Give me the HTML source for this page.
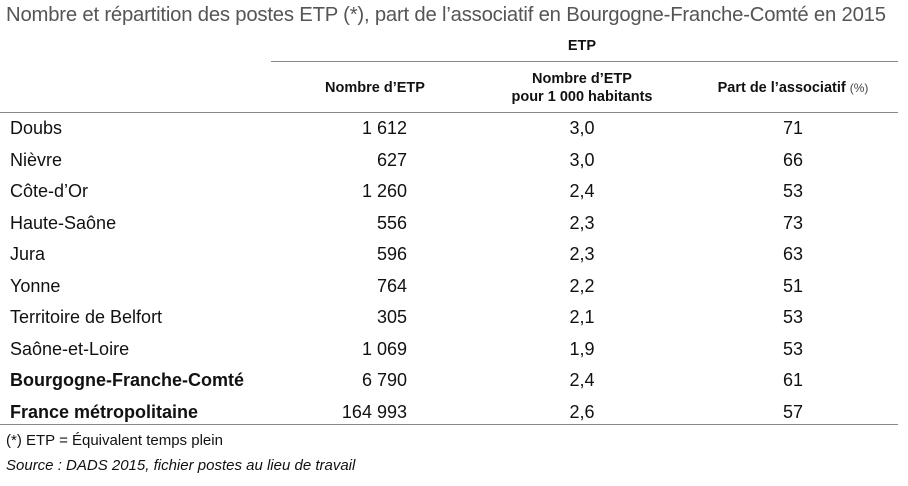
<!DOCTYPE html>
<html><head><meta charset="utf-8"><style>
body{margin:0;width:908px;height:486px;background:#fff;font-family:"Liberation Sans",sans-serif;color:#111;position:relative;overflow:hidden}
.a{position:absolute;white-space:nowrap}
.t{font-size:20.3px;color:#555;left:6px;top:4px;letter-spacing:-0.2px}
.h{font-size:14.5px;font-weight:bold;text-align:center}
.r{font-size:18px}
.l{position:absolute;height:1px;background:#888}
</style></head><body>
<div class="a t">Nombre et répartition des postes ETP (*), part de l’associatif en Bourgogne-Franche-Comté en 2015</div>
<div class="a h" style="left:482px;width:200px;top:38px">ETP</div>
<div class="l" style="left:271px;width:627px;top:61px"></div>
<div class="a h" style="left:275px;width:200px;top:80px">Nombre d’ETP</div>
<div class="a h" style="left:482px;width:200px;top:70px;line-height:18px">Nombre d’ETP<br>pour 1 000 habitants</div>
<div class="a h" style="left:693px;width:200px;top:80px">Part de l’associatif <span style="font-weight:normal;font-size:12px;color:#444">(%)</span></div>
<div class="l" style="left:0;width:898px;top:112px"></div>
<div class="l" style="left:0;width:898px;top:424px"></div>
<div id="rows"></div>
<div class="a r" style="left:6px;top:432px;font-size:15px">(*) ETP = Équivalent temps plein</div>
<div class="a r" style="left:6px;top:457px;font-size:15px;font-style:italic">Source : DADS 2015, fichier postes au lieu de travail</div>
<script>
var d=[["Doubs","1 612","3,0","71"],["Nièvre","627","3,0","66"],["Côte-d’Or","1 260","2,4","53"],["Haute-Saône","556","2,3","73"],["Jura","596","2,3","63"],["Yonne","764","2,2","51"],["Territoire de Belfort","305","2,1","53"],["Saône-et-Loire","1 069","1,9","53"],["Bourgogne-Franche-Comté","6 790","2,4","61"],["France métropolitaine","164 993","2,6","57"]];
var h="";d.forEach(function(r,i){var y=118+i*31.5,b=i>=8?"font-weight:bold;":"";
h+='<div class="a r" style="left:10px;top:'+y+'px;'+b+'">'+r[0]+'</div>'+
'<div class="a r" style="right:501px;top:'+y+'px">'+r[1]+'</div>'+
'<div class="a r" style="left:532px;width:100px;text-align:center;top:'+y+'px">'+r[2]+'</div>'+
'<div class="a r" style="left:743px;width:100px;text-align:center;top:'+y+'px">'+r[3]+'</div>';});
document.getElementById("rows").innerHTML=h;
</script>
</body></html>
